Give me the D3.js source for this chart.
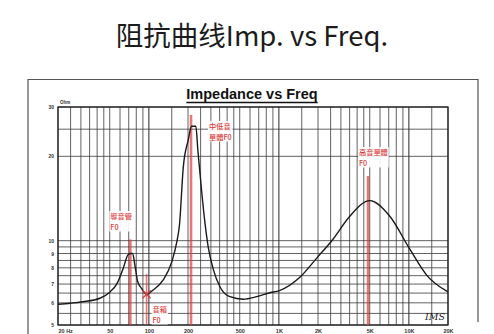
<!DOCTYPE html>
<html>
<head>
<meta charset="utf-8">
<script src="https://cdn.jsdelivr.net/npm/d3@7"></script>
<style>
  html, body { margin: 0; padding: 0; background: #fff; }
  svg { display: block; }
</style>
</head>
<body>
<svg id="chart" width="494" height="334"></svg>
<script>
// Impedance curve of the speaker system (frequency in Hz, impedance in Ohm)
const freqHz = [20, 25, 31, 42, 50, 57, 63.5, 69, 72, 75, 78, 82, 88, 96, 108, 129, 150, 164, 172, 184, 201, 213, 230, 238, 254, 270, 286, 313, 352, 420, 533, 675, 856, 1000, 1450, 1970, 2600, 3500, 5000, 7160, 10200, 13800, 20000];
const impedanceOhm = [5.93, 5.98, 6.05, 6.23, 6.55, 7.04, 7.97, 8.9, 9.0, 9.0, 8.2, 7.15, 6.75, 6.44, 6.67, 7.24, 8.4, 9.9, 11.4, 18.3, 22.9, 25.6, 25.6, 21.1, 15.2, 11.6, 9.5, 7.9, 6.85, 6.31, 6.18, 6.31, 6.52, 6.62, 7.4, 8.7, 10.1, 12.2, 13.9, 12.2, 9.3, 7.5, 6.56];

// Axis ticks
const xTickValues = [20, 50, 100, 200, 500, 1000, 2000, 5000, 10000, 20000];
const xTickLabels = ["20 Hz", "50", "100", "200", "500", "1K", "2K", "5K", "10K", "20K"];
const yTickValues = [5, 6, 7, 8, 9, 10, 20, 30];
const yGridValues = [5, 5.5, 6, 6.5, 7, 7.5, 8, 8.5, 9, 9.5, 10, 20, 25, 30];
const gridMultiples = [1, 1.5, 2, 2.5, 3, 3.5, 4, 4.5, 5, 6, 7, 8, 9];

// Resonance markers: frequency, top of the marker line (Ohm), label lines
const markerFreq = [72, 96, 211, 4850];
const markerTop = [10.1, 7.6, 28.1, 17];
const markerLabels = [["導音管", "F0"], ["音箱", "F0"], ["中低音", "單體F0"], ["高音單體", "F0"]];

const svg = d3.select("#chart");
const cjk = "'Noto Sans CJK TC', 'Noto Sans CJK SC', sans-serif";

const x = d3.scaleLog().domain([20, 20000]).range([58, 448]);
const y = d3.scaleLog().domain([5, 30]).range([325, 107]);

// Page title
svg.append("text")
  .attr("x", 252).attr("y", 46)
  .attr("text-anchor", "middle")
  .attr("font-family", "'Noto Sans CJK SC', sans-serif")
  .attr("font-size", 27.5)
  .attr("fill", "#1c1c1c")
  .text("阻抗曲线Imp. vs Freq.");

// Outer sheet frame
svg.append("path")
  .attr("d", "M28,340 V79.5 H478 V322")
  .attr("fill", "none").attr("stroke", "#555").attr("stroke-width", 1.2);

// Sheet heading
const head = svg.append("text")
  .attr("x", 252).attr("y", 99)
  .attr("text-anchor", "middle")
  .attr("font-family", "Arial, 'Liberation Sans', sans-serif")
  .attr("font-weight", "bold")
  .attr("font-size", 14.5)
  .attr("fill", "#111")
  .text("Impedance vs Freq");
const hb = head.node().getBBox();
svg.append("line")
  .attr("x1", hb.x).attr("x2", hb.x + hb.width)
  .attr("y1", 102.5).attr("y2", 102.5)
  .attr("stroke", "#111").attr("stroke-width", 1.4);

// Grid
const grid = svg.append("g");
const xGridValues = [];
[10, 100, 1000, 10000].forEach(d => gridMultiples.forEach(m => {
  const v = d * m;
  if (v >= 20 && v <= 20000) xGridValues.push(v);
}));
grid.selectAll("line.vx").data(xGridValues).join("line")
  .attr("x1", d => x(d)).attr("x2", d => x(d))
  .attr("y1", y(30)).attr("y2", y(5))
  .attr("stroke", "#3a3a3a")
  .attr("stroke-width", d => [100, 1000, 10000].includes(d) ? 1.1 : 0.8);
grid.selectAll("line.hy").data(yGridValues).join("line")
  .attr("x1", x(20)).attr("x2", x(20000))
  .attr("y1", d => y(d)).attr("y2", d => y(d))
  .attr("stroke", "#3a3a3a").attr("stroke-width", 0.8);

// Plot frame
svg.append("rect")
  .attr("x", x(20)).attr("y", y(30))
  .attr("width", x(20000) - x(20)).attr("height", y(5) - y(30))
  .attr("fill", "none").attr("stroke", "#222").attr("stroke-width", 1.3);

// Axes
const xAxis = svg.append("g")
  .attr("transform", `translate(0,${y(5) + 1})`)
  .call(d3.axisBottom(x).tickValues(xTickValues)
    .tickFormat((d, i) => xTickLabels[i]).tickSize(0).tickPadding(3));
xAxis.select(".domain").remove();
xAxis.selectAll("text")
  .attr("font-family", "Arial, sans-serif").attr("font-size", 5.5)
  .attr("font-weight", "bold").attr("fill", "#333")
  .attr("text-anchor", (d, i) => i === 0 ? "start" : "middle");

const yAxis = svg.append("g")
  .attr("transform", `translate(${x(20)},0)`)
  .call(d3.axisLeft(y).tickValues(yTickValues).tickFormat(d3.format("d")).tickSize(0).tickPadding(4));
yAxis.select(".domain").remove();
yAxis.selectAll("text")
  .attr("font-family", "Arial, sans-serif").attr("font-size", 5)
  .attr("font-weight", "bold").attr("fill", "#333");

svg.append("text")
  .attr("x", x(20) + 2).attr("y", y(30) - 3)
  .attr("font-family", "Arial, sans-serif").attr("font-size", 4.5)
  .attr("font-weight", "bold").attr("fill", "#333")
  .text("Ohm");

// Resonance marker lines
const red = "#dd3c3c";
const markers = markerFreq.map((f, i) => ({ f, top: markerTop[i], lines: markerLabels[i] }));
svg.append("g").selectAll("line").data(markers).join("line")
  .attr("x1", d => x(d.f)).attr("x2", d => x(d.f))
  .attr("y1", d => y(d.top)).attr("y2", y(5))
  .attr("stroke", red).attr("stroke-opacity", 0.7)
  .attr("stroke-width", (d, i) => i === 1 ? 1.6 : 2.6);

// Impedance curve
const pts = freqHz.map((f, i) => [x(f), y(impedanceOhm[i])]);
svg.append("path")
  .attr("d", d3.line().curve(d3.curveMonotoneX)(pts))
  .attr("fill", "none").attr("stroke", "#1a1a1a").attr("stroke-width", 1.4);

// Cross at the box tuning dip
const dip = markers[1];
const dz = impedanceOhm[freqHz.indexOf(96)];
const cx = x(dip.f), cy = y(dz);
svg.append("path")
  .attr("d", `M${cx - 4},${cy - 4}L${cx + 4},${cy + 4}M${cx - 4},${cy + 4}L${cx + 4},${cy - 4}`)
  .attr("stroke", red).attr("stroke-width", 1.3);

// Marker labels, one text per line on a white patch
const labelOffsets = [[-20, 219], [6, 312], [18, 129], [-9, 155]];
markers.forEach((m, i) => {
  const lx = x(m.f) + labelOffsets[i][0];
  const g = svg.append("g");
  const texts = m.lines.map((s, k) => g.append("text")
    .attr("x", lx).attr("y", labelOffsets[i][1] + k * 10.5)
    .attr("font-family", cjk).attr("font-size", 7.2).attr("font-weight", 500)
    .attr("fill", red)
    .text(s));
  const boxes = texts.map(t => t.node().getBBox());
  const x0 = d3.min(boxes, b => b.x), x1 = d3.max(boxes, b => b.x + b.width);
  const y0 = d3.min(boxes, b => b.y), y1 = d3.max(boxes, b => b.y + b.height);
  g.insert("rect", "text")
    .attr("x", x0 - 1).attr("y", y0)
    .attr("width", x1 - x0 + 2).attr("height", y1 - y0)
    .attr("fill", "#fff").attr("fill-opacity", 0.9);
});

// Sheet initials
svg.append("text")
  .attr("x", 425).attr("y", 320)
  .attr("font-family", "'DejaVu Serif', serif").attr("font-style", "italic")
  .attr("font-size", 9.5).attr("fill", "#222")
  .text("IMS");
</script>
</body>
</html>
